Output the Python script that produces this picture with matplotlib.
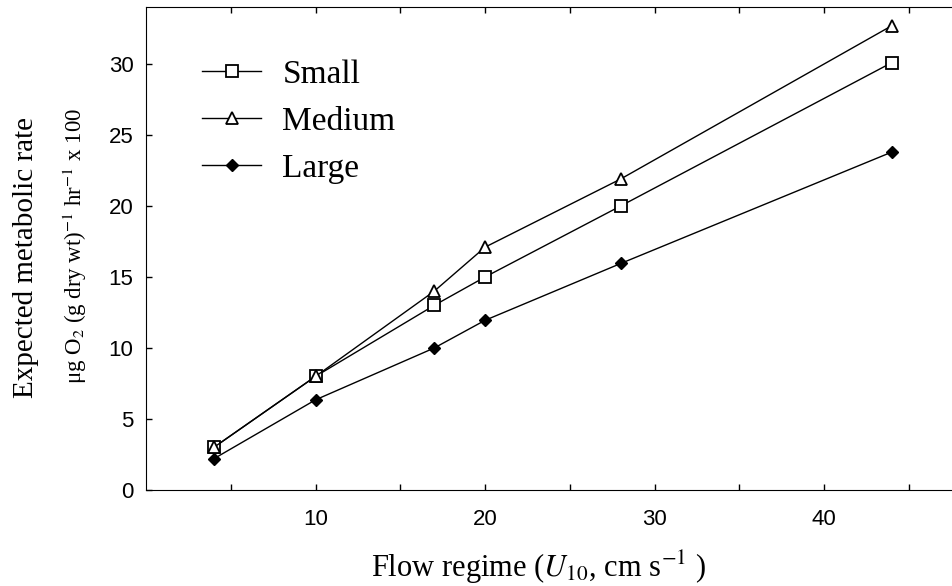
import numpy as np
import matplotlib
matplotlib.use('Agg')
import matplotlib.pyplot as plt

# flow regime (cm/s) and expected metabolic rate for each size class
flow = [4, 10, 17, 20, 28, 44]
small = [3.0, 8.0, 13.0, 15.0, 20.0, 30.1]
medium = [3.0, 8.0, 14.0, 17.1, 21.9, 32.7]
large = [2.2, 6.35, 10.0, 11.95, 15.95, 23.8]

xticks = [5, 10, 15, 20, 25, 30, 35, 40, 45]
xticklabels = ['', '10', '', '20', '', '30', '', '40', '']
yticks = [0, 5, 10, 15, 20, 25, 30]

plt.rcParams['mathtext.fontset'] = 'stix'
serif = 'Liberation Serif'
sans = 'Liberation Sans'

fig = plt.figure(figsize=(9.53, 5.86), dpi=100)
ax = fig.add_axes([0.1532, 0.1638, 0.8468, 0.824])

ax.plot(flow, small, color='black', lw=1.0, marker='s', ms=8.5,
        mfc='white', mec='black', mew=1.3, label='Small')
ax.plot(flow, medium, color='black', lw=1.0, marker='^', ms=9,
        mfc='white', mec='black', mew=1.3, label='Medium')
ax.plot(flow, large, color='black', lw=1.0, marker='D', ms=6.5,
        mfc='black', mec='black', label='Large')

ax.set_xlim(0, 47.6)
ax.set_ylim(0, 34)
ax.set_xticks(xticks)
ax.set_xticklabels(xticklabels)
ax.set_yticks(yticks)
ax.tick_params(direction='in', length=4, width=1, top=True, right=False,
               labelsize=16)
ax.tick_params(axis='y', pad=9)
ax.tick_params(axis='x', pad=14)
for lab in ax.get_xticklabels() + ax.get_yticklabels():
    lab.set_family(sans)
ax.spines['right'].set_visible(False)

ax.set_xlabel(r'Flow regime ($\mathit{U_{10}}$, cm s$^{-1}$ )',
              fontsize=22, family=serif)
ax.xaxis.set_label_coords(0.487, -0.122)

fig.text(0.027, 0.56, 'Expected metabolic rate', rotation=90,
         fontsize=21, family=serif, ha='center', va='center')
fig.text(0.079, 0.58, r'μg O$_2$ (g dry wt)$^{-1}$ hr$^{-1}$ x 100',
         rotation=90, fontsize=16.5, family=serif, ha='center', va='center')

leg = ax.legend(loc='upper left', bbox_to_anchor=(0.07, 0.892), frameon=False,
                prop={'family': serif, 'size': 24}, handlelength=1.75,
                labelspacing=0.5, handletextpad=0.65, borderpad=0,
                borderaxespad=0)

plt.savefig('out.png', dpi=100)
